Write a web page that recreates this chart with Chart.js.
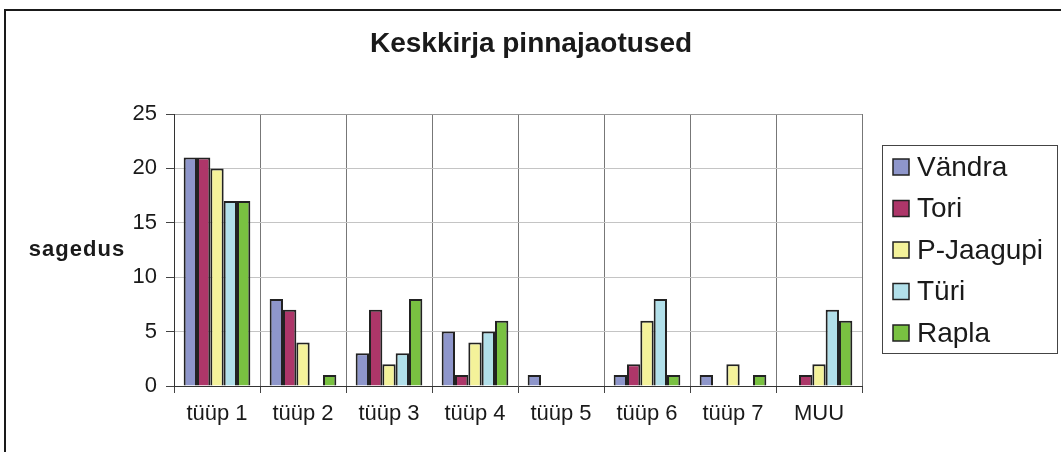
<!DOCTYPE html>
<html>
<head>
<meta charset="utf-8">
<style>
  html, body { margin: 0; padding: 0; background: #fff; overflow: hidden; }
  #wrap { width: 1061px; height: 452px; }
</style>
</head>
<body>
<div id="wrap"><canvas id="pinnad" width="1061" height="452"></canvas></div>
<script src="https://cdn.jsdelivr.net/npm/chart.js"></script>
<script>
const categories = ["tüüp 1", "tüüp 2", "tüüp 3", "tüüp 4", "tüüp 5", "tüüp 6", "tüüp 7", "MUU"];
const vandra   = [21, 8, 3, 5, 1, 1, 1, 0];
const tori     = [21, 7, 7, 1, 0, 2, 0, 1];
const pJaagupi = [20, 4, 2, 4, 0, 6, 2, 2];
const turi     = [17, 0, 3, 5, 0, 8, 0, 7];
const rapla    = [17, 1, 8, 6, 0, 1, 1, 6];
const yTicks = [0, 5, 10, 15, 20, 25];

const FONT = "'Liberation Sans', Arial, sans-serif";

function series(label, data, color) {
  return {
    label: label,
    data: data,
    backgroundColor: color,
    borderColor: '#222',
    borderWidth: 2,
    categoryPercentage: 0.775,
    barPercentage: 1
  };
}

// frame, title, y-axis caption and boxed legend
const decor = {
  id: 'decor',
  afterDraw(chart) {
    const ctx = chart.ctx;
    ctx.save();
    ctx.strokeStyle = '#1a1a1a';
    ctx.lineWidth = 2;
    ctx.strokeRect(5, 10, 1200, 600);

    ctx.fillStyle = '#1a1a1a';
    ctx.textAlign = 'center';
    ctx.textBaseline = 'middle';
    ctx.font = 'bold 28px ' + FONT;
    ctx.fillText('Keskkirja pinnajaotused', 531, 44);

    ctx.font = 'bold 22px ' + FONT;
    ctx.letterSpacing = '1px';
    ctx.fillText('sagedus', 77, 250);
    ctx.letterSpacing = '0px';

    // legend
    ctx.lineWidth = 1;
    ctx.strokeStyle = '#444';
    ctx.strokeRect(882.5, 145.5, 175, 208);
    ctx.font = '28px ' + FONT;
    ctx.textAlign = 'left';
    chart.data.datasets.forEach((ds, i) => {
      const cy = 167 + i * 41.5;
      ctx.fillStyle = ds.backgroundColor;
      ctx.fillRect(893, cy - 8, 16, 16);
      ctx.strokeStyle = '#222';
      ctx.lineWidth = 1.5;
      ctx.strokeRect(893, cy - 8, 16, 16);
      ctx.fillStyle = '#1a1a1a';
      ctx.fillText(ds.label, 917, cy + 1);
    });
    ctx.restore();
  }
};

new Chart(document.getElementById('pinnad'), {
  type: 'bar',
  data: {
    labels: categories,
    datasets: [
      series('Vändra', vandra, '#8e96cb'),
      series('Tori', tori, '#ad3669'),
      series('P-Jaagupi', pJaagupi, '#f4f29a'),
      series('Türi', turi, '#b2e0ea'),
      series('Rapla', rapla, '#79c141')
    ]
  },
  options: {
    responsive: false,
    animation: false,
    layout: { padding: { left: 0, right: 199, top: 114, bottom: 0 } },
    plugins: {
      legend: { display: false },
      tooltip: { enabled: false },
      title: { display: false }
    },
    scales: {
      x: {
        grid: {
          offset: true,
          color: '#777',
          tickColor: '#444',
          tickLength: 7
        },
        border: { color: '#333', width: 1 },
        ticks: {
          color: '#1a1a1a',
          font: { family: FONT, size: 22 },
          padding: 8,
          maxRotation: 0
        },
        afterFit(s) { s.height = 66; }
      },
      y: {
        min: 0,
        max: 25,
        afterBuildTicks(s) { s.ticks = yTicks.map(v => ({ value: v })); },
        grid: {
          color: ctx => ctx.tick && ctx.tick.value === 25 ? '#999' : '#c4c4c4',
          tickColor: '#444',
          tickLength: 8
        },
        border: { color: '#333', width: 1 },
        ticks: {
          color: '#1a1a1a',
          font: { family: FONT, size: 22 },
          padding: 9
        },
        afterFit(s) { s.width = 174; }
      }
    }
  },
  plugins: [decor]
});
</script>
</body>
</html>
